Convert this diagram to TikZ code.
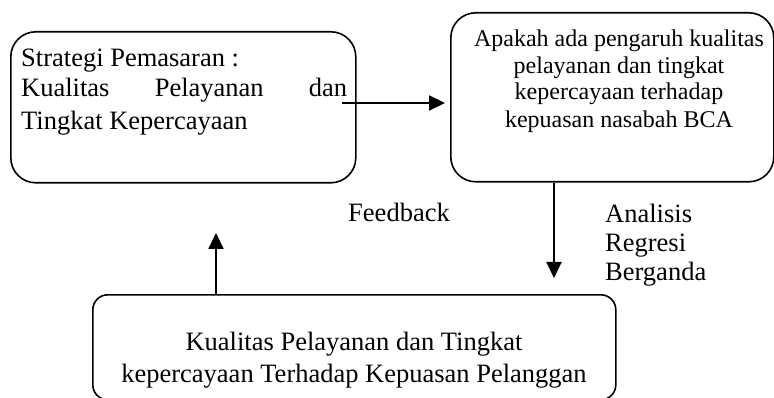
\documentclass[tikz,border=0pt]{standalone}
\usepackage{fontspec}
\setmainfont{Liberation Serif}
\usetikzlibrary{arrows.meta}
\begin{document}
\begin{tikzpicture}[x=1pt,y=-1pt,
  box/.style={draw, line width=1.6pt, rounded corners=25pt, inner sep=0pt, anchor=north west},
  arr/.style={line width=2.2pt, -{Triangle[length=16pt,width=15pt]}},
  lbl/.style={font=\fontsize{26.5}{30}\selectfont, inner sep=0pt},
  lbs/.style={font=\fontsize{24}{27}\selectfont, inner sep=0pt}]
\useasboundingbox (0,0) rectangle (774,398);
% boxes
\node[box, minimum width=345pt, minimum height=151pt] (b1) at (10,31) {};
\node[box, minimum width=323pt, minimum height=169pt] (b2) at (450,12) {};
\node[box, rounded corners=15pt, minimum width=523pt, minimum height=105pt] (b3) at (92,294) {};
% box 1 text
\node[lbl, anchor=base west] (t1a) at (21,67) {Strategi Pemasaran :};
\node[lbl, anchor=base west] (t1b) at (21,97) {\makebox[326pt][s]{Kualitas\hfill Pelayanan\hfill dan}};
\node[lbl, anchor=base west] (t1c) at (21,130) {Tingkat Kepercayaan};
% box 2 text
\node[lbs, anchor=base] (t2a) at (619,46.7) {Apakah ada pengaruh kualitas};
\node[lbs, anchor=base] (t2b) at (619,73.3) {pelayanan dan tingkat};
\node[lbs, anchor=base] (t2c) at (619,100) {kepercayaan terhadap};
\node[lbs, anchor=base] (t2d) at (619,128) {kepuasan nasabah BCA};
% box 3 text
\node[lbl, anchor=base] (t3a) at (354,350) {Kualitas Pelayanan dan Tingkat};
\node[lbl, anchor=base] (t3b) at (354,382) {kepercayaan Terhadap Kepuasan Pelanggan};
% labels
\node[lbl, anchor=base] (fb) at (399,222) {Feedback};
\node[lbl, anchor=base west] (an1) at (605,223) {Analisis};
\node[lbl, anchor=base west] (an2) at (605,252) {Regresi};
\node[lbl, anchor=base west] (an3) at (605,280) {Berganda};
% connectors
\coordinate (c1s) at (342,103);
\coordinate (c1e) at (445,103);
\coordinate (c2e) at (554,278);
\coordinate (c3e) at (216,233);
\draw[arr] (c1s) -- (c1e);
\draw[arr] (b2.south -| c2e) -- (c2e);
\draw[arr] (b3.north -| c3e) -- (c3e);
\end{tikzpicture}
\end{document}
